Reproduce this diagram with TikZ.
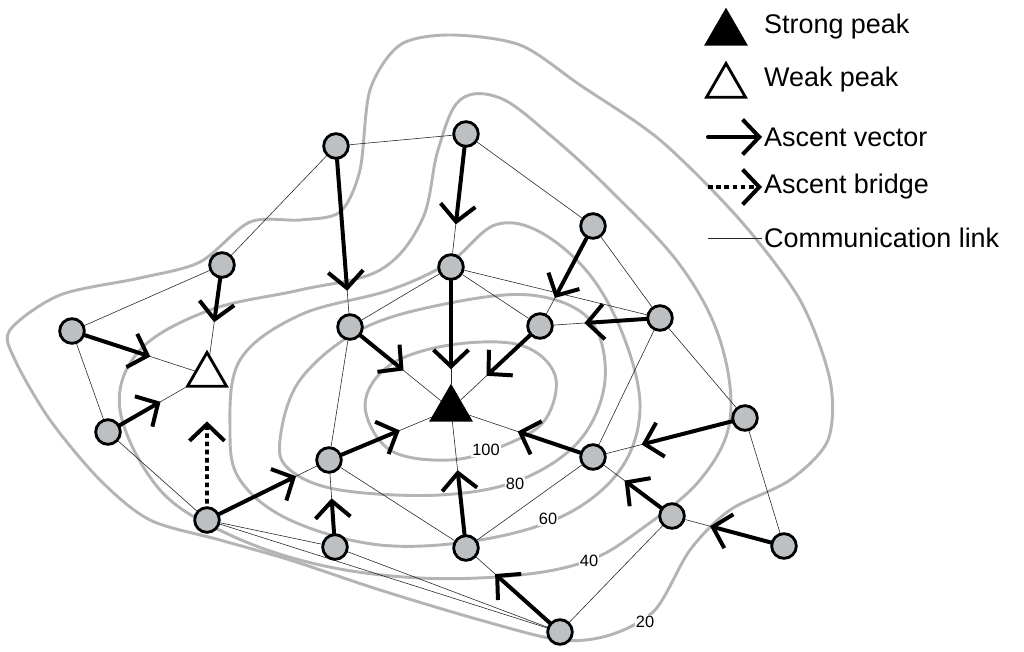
\documentclass[tikz,border=0pt]{standalone}
\usepackage{fontspec}
\setmainfont{Liberation Sans}
\usetikzlibrary{arrows.meta,shapes.geometric,calc,backgrounds}
\definecolor{ngray}{HTML}{BDC0C3}
\definecolor{cgray}{HTML}{B4B4B4}
\begin{document}
\begin{tikzpicture}[x=0.03cm,y=-0.03cm,
  sn/.style={circle,draw=black,line width=2.4pt,fill=ngray,minimum size=0.74cm,inner sep=0},
  peak/.style={regular polygon,regular polygon sides=3,draw=black,line width=2.4pt,minimum size=1.35cm,inner sep=0},
  strong/.style={peak,fill=black},
  weak/.style={peak,fill=white},
  link/.style={line width=0.5pt,black!85},
  asc/.style={line width=3.4pt,line cap=round,-{Straight Barb[length=0.5cm,width=1.05cm,line width=3.4pt]}},
  bridge/.style={asc,dash pattern=on 4pt off 3pt,line cap=butt},
  contour/.style={cgray,line width=2.5pt},
  clab/.style={fill=white,inner sep=1pt,font=\fontsize{14}{16}\selectfont},
  leg/.style={anchor=west,font=\fontsize{23}{27}\selectfont}]
\useasboundingbox (0,0) rectangle (1024,652);
% nodes
\node[sn] (n1) at (336,146) {};
\node[sn] (n2) at (466,134) {};
\node[sn] (n3) at (222,265) {};
\node[sn] (n4) at (451,267) {};
\node[sn] (n5) at (593,226) {};
\node[sn] (n6) at (72,331) {};
\node[sn] (n7) at (350,327) {};
\node[sn] (n8) at (540,326) {};
\node[sn] (n9) at (660,318) {};
\node[sn] (n10) at (108,432) {};
\node[sn] (n11) at (329,460) {};
\node[sn] (n12) at (593,457) {};
\node[sn] (n13) at (745,418) {};
\node[sn] (n14) at (207,520) {};
\node[sn] (n15) at (335,547) {};
\node[sn] (n16) at (466,548) {};
\node[sn] (n17) at (672,516) {};
\node[sn] (n18) at (784,546) {};
\node[sn] (n19) at (560,632) {};
\node[weak] (W) at (207,375) {};
\node[strong] (S) at (451,409) {};
\begin{scope}[on background layer]
% contours
\draw[contour] plot[smooth cycle,tension=0.6] coordinates {(365,405) (390,365) (450,345) (520,345) (555,375) (545,420) (505,445) (450,460) (390,450)};
\draw[contour] plot[smooth cycle,tension=0.6] coordinates {(280,440) (300,380) (360,330) (440,305) (530,295) (590,320) (605,380) (580,440) (520,480) (440,495) (340,490) (290,470)};
\draw[contour] plot[smooth cycle,tension=0.6] coordinates {(230,430) (240,360) (300,315) (390,290) (450,262) (495,225) (540,232) (590,275) (625,340) (640,410) (620,470) (565,515) (480,540) (380,545) (290,520) (240,480)};
\draw[contour] plot[smooth cycle,tension=0.6] coordinates {(120,410) (140,350) (210,310) (300,290) (380,270) (422,220) (438,150) (460,100) (500,98) (550,135) (610,190) (680,265) (720,340) (730,420) (700,480) (640,530) (590,560) (520,575) (420,578) (320,565) (230,535) (160,490)};
\draw[contour] plot[smooth cycle,tension=0.5] coordinates {(10,330) (60,295) (140,278) (200,262) (250,222) (300,220) (340,212) (360,170) (370,90) (400,45) (450,35) (520,45) (580,85) (660,140) (740,220) (800,300) (830,380) (828,440) (790,480) (730,510) (690,550) (655,610) (610,635) (560,640) (480,620) (380,590) (290,560) (220,540) (150,520) (100,480) (50,420) (15,360)};
\node[clab] at (486,450) {100};
\node[clab] at (515,484) {80};
\node[clab] at (548,519) {60};
\node[clab] at (589,561) {40};
\node[clab] at (645,622) {20};
% links
\foreach \a/\b in {n1/n2,n1/n3,n1/n7,n2/n4,n2/n5,n3/n6,n3/W,n6/W,n6/n10,n10/W,n10/n14,n4/n7,n4/S,n4/n8,n4/n9,n7/S,n7/n11,n11/S,n11/n14,n11/n15,n11/n16,n14/n15,n14/n19,n15/n19,n16/S,n16/n19,n16/n12,n5/n8,n5/n9,n8/n9,n8/S,n9/n12,n9/n13,n12/S,n12/n13,n12/n17,n13/n18,n17/n18,n17/n19}
  \draw[link] (\a) -- (\b);
% ascent vectors
\foreach \a/\b/\f in {n1/n7/0.8,n2/n4/0.68,n3/W/0.52,n4/S/0.72,n5/n8/0.72,n9/n8/0.63,n6/W/0.58,n7/S/0.53,n8/S/0.6,n10/W/0.53,n11/S/0.58,n12/S/0.53,n13/n12/0.68,n14/n11/0.73,n15/n11/0.56,n16/S/0.56,n17/n12/0.6,n18/n17/0.66,n19/n16/0.69}
  \draw[asc] (\a.center) -- ($(\a.center)!\f!(\b.center)$);
\draw[bridge] (n14.center) -- ($(n14.center)!0.68!(W.center)$);
\end{scope}
% legend
\node[strong] (ls) at (726,33) {};
\node[leg] (t1) at (760,27) {Strong peak};
\node[weak] (lw) at (726,86) {};
\node[leg] (t2) at (760,80) {Weak peak};
\coordinate (a1) at (708,137); \coordinate (a2) at (762,137);
\draw[asc] (a1) -- (a2);
\node[leg] (t3) at (760,137) {Ascent vector};
\coordinate (b1) at (708,187); \coordinate (b2) at (762,187);
\draw[bridge] (b1) -- (b2);
\node[leg] (t4) at (760,187) {Ascent bridge};
\coordinate (c1) at (708,238); \coordinate (c2) at (762,238);
\draw[link] (c1) -- (c2);
\node[leg] (t5) at (760,238) {Communication link};
\end{tikzpicture}
\end{document}
